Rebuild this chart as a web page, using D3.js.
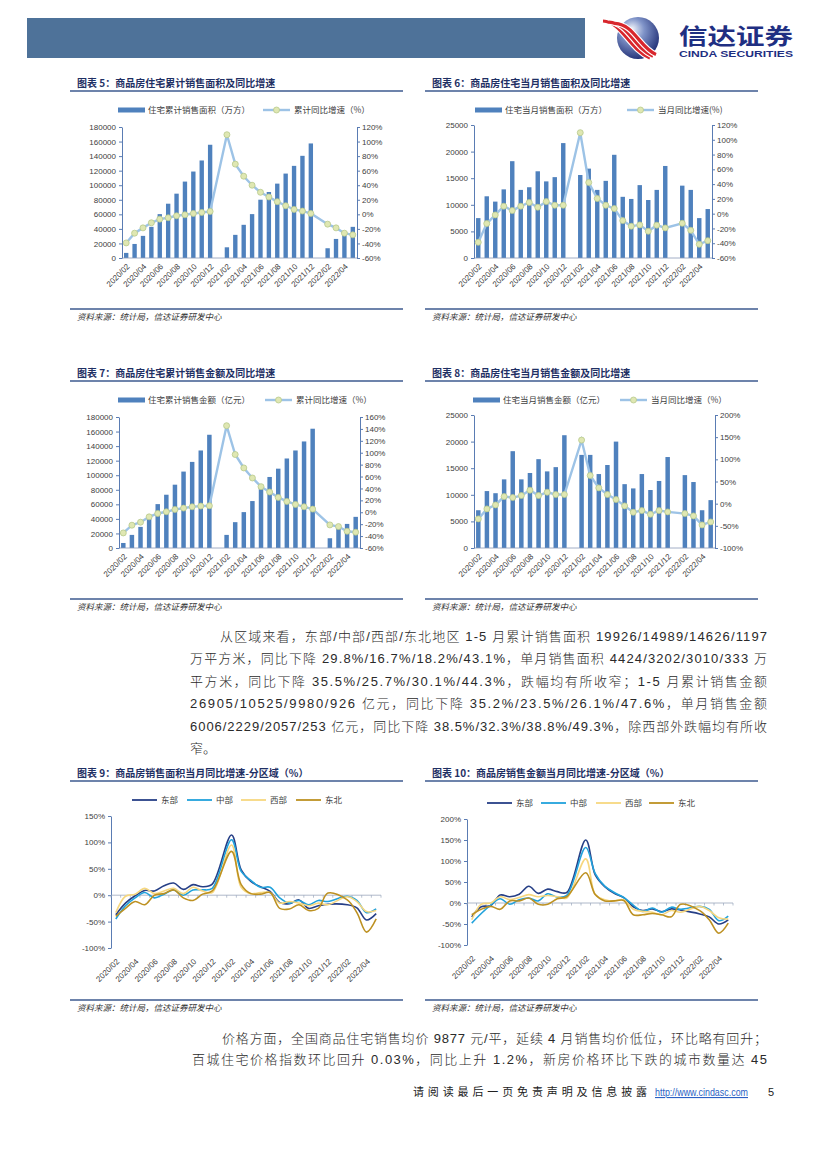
<!DOCTYPE html>
<html><head><meta charset="utf-8">
<script src="https://cdn.jsdelivr.net/npm/d3@7"></script>
<style>
body{margin:0;background:#fff;}
svg{display:block;font-family:"Liberation Sans","Noto Sans CJK SC",sans-serif;}
</style></head><body>
<svg id="page" width="827" height="1169"></svg>
<script>
// ---------- DATA ----------
const months = ["2020/02","2020/03","2020/04","2020/05","2020/06","2020/07","2020/08","2020/09","2020/10","2020/11","2020/12",
  "2021/01","2021/02","2021/03","2021/04","2021/05","2021/06","2021/07","2021/08","2021/09","2021/10","2021/11","2021/12",
  "2022/01","2022/02","2022/03","2022/04","2022/05"];
const tickMonths = ["2020/02","2020/04","2020/06","2020/08","2020/10","2020/12","2021/02","2021/04","2021/06","2021/08","2021/10","2021/12","2022/02","2022/04"];

const areaCum = [7000,19300,30400,42800,60300,74600,88400,105000,118800,134000,155600,null,14700,31800,45600,60300,80100,90700,102200,116000,126600,140400,157400,null,13400,26200,33600,42800];
const areaCumYoY = [-39.3,-25.9,-18.6,-11.6,-6.6,-4.7,-2,-0.6,1.2,2.6,4,null,109.4,69,52.4,40,30.3,23.8,17.4,11.8,6.8,4.5,1.2,null,-13.5,-18.6,-25.9,-28.2];
const areaMonth = [7500,11600,10600,12900,18200,12800,13300,16300,14400,15200,21600,null,15600,16800,12800,14500,19400,11500,11100,13700,10900,12800,17300,null,13600,12800,7500,9200];
const areaMonthYoY = [-38.8,-13.4,-1.7,10.1,4.2,10.1,15.1,8.7,16.4,11.4,11.4,null,109.6,42.2,20.5,11.4,6.9,-9.4,-17,-15.2,-23.8,-15.6,-19.3,null,-13,-22.5,-41.5,-36.5];
const salesCum = [6900,18000,29000,41900,60300,73200,87000,105000,118300,134000,155600,null,18000,35500,49300,64500,84300,97600,109000,123000,134000,146400,163900,null,13400,28100,33100,42800];
const salesCumYoY = [-34.7,-21.7,-16.7,-7.7,-2,0.8,4.7,7,9.2,10.4,10.9,null,145.4,97,74.5,57.6,43,34,25,18.2,13.2,9.2,5.3,null,-21.2,-24,-31.9,-33.5];
const salesMonth = [7100,10700,10300,12900,18200,12900,14100,16700,14400,15200,21200,null,17500,17500,13900,15600,20000,12000,11200,13900,10900,12600,17100,null,13700,12400,7100,9000];
const salesMonthYoY = [-34.4,-11.8,-2.8,16,13.8,18.3,30.4,18.3,25.8,20.6,20.6,null,143.4,63.5,35.6,20.6,9.3,-5,-19.4,-15.6,-23.9,-15.6,-18.6,null,-22.4,-27.6,-48,-41.2];

const regions = ["东部","中部","西部","东北"];
const areaEast    = [-37,-15,-1,9,8,18,23,11,20,16,21,null,114,48,26,16,7,-14,-16,-9,-25,-20,-17,null,-18,-24,-47,-35];
const areaCentral = [-45,-20,-5,5,-5,2,10,0,10,10,13,null,105,45,28,15,15,-5,-15,-10,-18,-10,-12,null,-2,-10,-33,-26];
const areaWest    = [-33,-2,2,13,3,8,13,3,15,8,5,null,95,15,3,5,5,-15,-12,-15,-20,-15,-18,null,-3,-12,-31,-29];
const areaNE      = [-40,-25,-12,-18,0,3,10,-5,-10,2,8,null,83,20,3,2,5,-25,-26,-18,-29,-25,4,null,-9,-33,-70,-45];
const salesEast    = [-33,-9,-6,19,15,21,40,23,33,27,25,null,150,67,39,23,13,-9,-18,-14,-21,-14,-17,null,-26,-33,-50,-40];
const salesCentral = [-48,-25,-5,10,-3,8,12,5,22,14,18,null,132,70,40,25,13,-5,-20,-12,-22,-10,-15,null,-8,-15,-42,-31];
const salesWest    = [-40,-3,0,15,8,13,20,15,18,15,12,null,105,20,8,5,8,-15,-20,-22,-28,-18,-22,null,-8,-18,-35,-38];
const salesNE      = [-28,-15,-8,-15,5,5,12,-3,-3,10,15,null,72,20,5,5,6,-28,-28,-25,-28,-33,-3,null,-18,-40,-72,-48];

const ticksCum = [0,20000,40000,60000,80000,100000,120000,140000,160000,180000];
const ticksMonth = [0,5000,10000,15000,20000,25000];
const ticksPct120 = [-60,-40,-20,0,20,40,60,80,100,120];
const ticksPct160 = [-60,-40,-20,0,20,40,60,80,100,120,140,160];
const ticksPct200 = [-100,-50,0,50,100,150,200];
const ticksPct150 = [-100,-50,0,50,100,150];

// ---------- STYLE ----------
const BAR = "#4f81bd", LINE = "#9dc3e6", MK = "#dfe7b2", MKS = "#b8c98c";
const AX = "#5a7cb3", TXT = "#404040", NAVY = "#1f3064";
const regionColors = ["#263f86","#21a2dc","#f6d77f","#bd9122"];

const svg = d3.select("#page");

// ---------- HEADER ----------
svg.append("rect").attr("x",27).attr("y",18).attr("width",558).attr("height",40).attr("fill","#4e7299");
const defs = svg.append("defs");
const rg = defs.append("radialGradient").attr("id","sph").attr("cx","40%").attr("cy","35%").attr("r","70%").attr("fx","35%").attr("fy","28%");
rg.append("stop").attr("offset","0%").attr("stop-color","#f2f5fb");
rg.append("stop").attr("offset","40%").attr("stop-color","#7f93c8");
rg.append("stop").attr("offset","100%").attr("stop-color","#1d2b72");
svg.append("circle").attr("cx",638).attr("cy",38).attr("r",21).attr("fill","url(#sph)");
[0,6,12].forEach((o,i)=>{
  svg.append("path").attr("d",`M${603+o},${21+o*0.2} C${622+o},${22+o*0.2} ${628+o},${48} ${650+o*0.5},${58-o*0.3}`)
    .attr("fill","none").attr("stroke","#fff").attr("stroke-width",5.5);
  svg.append("path").attr("d",`M${603+o},${21+o*0.2} C${622+o},${22+o*0.2} ${628+o},${48} ${650+o*0.5},${58-o*0.3}`)
    .attr("fill","none").attr("stroke","#d8262c").attr("stroke-width",3.2);
});
svg.append("text").attr("x",679).attr("y",44).attr("font-size",22).attr("font-weight","bold").attr("fill","#1f2f82")
  .attr("textLength",114).attr("lengthAdjust","spacingAndGlyphs").attr("font-family","Noto Sans CJK SC").text("信达证券");
svg.append("text").attr("x",679).attr("y",57).attr("font-size",8.5).attr("font-weight","bold").attr("fill","#1f2f82")
  .attr("textLength",114).attr("lengthAdjust","spacingAndGlyphs").text("CINDA SECURITIES");

// ---------- PANEL FRAME ----------
function panelFrame(x0,x1,titleY,sourceY,title){
  svg.append("text").attr("x",x0+7).attr("y",titleY).attr("font-size",10).attr("font-weight","bold")
    .attr("fill",NAVY).attr("font-family","Noto Sans CJK SC").text(title);
  svg.append("line").attr("x1",x0).attr("x2",x1).attr("y1",titleY+4).attr("y2",titleY+4).attr("stroke","#3d5a8f").attr("stroke-width",1.3);
  svg.append("line").attr("x1",x0).attr("x2",x1).attr("y1",sourceY).attr("y2",sourceY).attr("stroke","#3d5a8f").attr("stroke-width",1.3);
  svg.append("text").attr("x",x0+7).attr("y",sourceY+11).attr("font-size",8.5).attr("font-style","italic")
    .attr("fill","#333").attr("font-family","Noto Sans CJK SC").text("资料来源：统计局，信达证券研发中心");
}

function styleAxis(sel){
  sel.select(".domain").attr("stroke",AX);
  sel.selectAll(".tick line").attr("stroke",AX);
  sel.selectAll(".tick text").attr("fill",TXT).attr("font-size",8).attr("font-family","Liberation Sans");
}

function xLabels(g,x,y0){
  g.selectAll("text.xl").data(tickMonths).join("text").attr("class","xl")
    .attr("transform",d=>`translate(${x(d)+x.bandwidth()/2+2},${y0}) rotate(-45)`)
    .attr("text-anchor","end").attr("dy","0.35em").attr("font-size",8).attr("fill",TXT).text(d=>d);
}

// ---------- COMBO CHART ----------
function comboChart(c){
  const g = svg.append("g");
  const x = d3.scaleBand().domain(months).range([c.l,c.r]);
  const yL = d3.scaleLinear().domain([0,c.lMax]).range([c.b,c.t]);
  const yR = d3.scaleLinear().domain([c.rMin,c.rMax]).range([c.b,c.t]);
  const bw = x.bandwidth()*0.52;
  const bars = months.map((m,i)=>({m,v:c.bars[i]})).filter(d=>d.v!=null);
  g.selectAll("rect.bar").data(bars).join("rect").attr("class","bar")
    .attr("x",d=>x(d.m)+(x.bandwidth()-bw)/2).attr("width",bw)
    .attr("y",d=>yL(d.v)).attr("height",d=>yL(0)-yL(d.v)).attr("fill",BAR);
  g.append("line").attr("x1",c.l).attr("x2",c.r).attr("y1",c.b).attr("y2",c.b).attr("stroke","#8a9bb8").attr("stroke-width",0.8);
  g.append("g").attr("transform",`translate(${c.l},0)`)
    .call(d3.axisLeft(yL).tickValues(c.lTicks).tickSize(3).tickSizeOuter(0).tickPadding(3).tickFormat(d3.format("d")))
    .call(styleAxis);
  g.append("g").attr("transform",`translate(${c.r},0)`)
    .call(d3.axisRight(yR).tickValues(c.rTicks).tickSize(3).tickSizeOuter(0).tickPadding(2).tickFormat(d=>d+"%"))
    .call(styleAxis);
  xLabels(g,x,c.b+7);
  const pts = months.map((m,i)=>({m,v:c.line[i]})).filter(d=>d.v!=null);
  const cx = d=>x(d.m)+x.bandwidth()/2;
  g.append("path").datum(pts).attr("fill","none").attr("stroke",LINE).attr("stroke-width",2.4)
    .attr("d",d3.line().x(cx).y(d=>yR(d.v)));
  g.selectAll("circle.mk").data(pts).join("circle").attr("class","mk")
    .attr("cx",cx).attr("cy",d=>yR(d.v)).attr("r",3).attr("fill",MK).attr("stroke",MKS).attr("stroke-width",0.8);
  // legend
  const ly = c.legY;
  g.append("rect").attr("x",c.lg1).attr("y",ly-2.5).attr("width",27).attr("height",5).attr("fill",BAR);
  g.append("text").attr("x",c.lg1+30).attr("y",ly).attr("dy","0.35em").attr("font-size",8.5).attr("fill",TXT)
    .attr("font-family","Noto Sans CJK SC").text(c.leg1);
  g.append("line").attr("x1",c.lg2).attr("x2",c.lg2+27).attr("y1",ly).attr("y2",ly).attr("stroke",LINE).attr("stroke-width",2.4);
  g.append("circle").attr("cx",c.lg2+13.5).attr("cy",ly).attr("r",3).attr("fill",MK).attr("stroke",MKS).attr("stroke-width",0.8);
  g.append("text").attr("x",c.lg2+31).attr("y",ly).attr("dy","0.35em").attr("font-size",8.5).attr("fill",TXT)
    .attr("font-family","Noto Sans CJK SC").text(c.leg2);
}

// ---------- REGION CHART ----------
function regionChart(c){
  const g = svg.append("g");
  const x = d3.scaleBand().domain(months).range([c.l,c.r]);
  const y = d3.scaleLinear().domain([c.min,c.max]).range([c.b,c.t]);
  g.append("g").attr("transform",`translate(${c.l},0)`)
    .call(d3.axisLeft(y).tickValues(c.ticks).tickSize(3).tickSizeOuter(0).tickPadding(3).tickFormat(d=>d+"%"))
    .call(styleAxis);
  g.append("line").attr("x1",c.l).attr("x2",c.r).attr("y1",y(0)).attr("y2",y(0)).attr("stroke","#9aa6bb").attr("stroke-width",0.8);
  g.selectAll("line.zt").data(months.concat(["end"])).join("line").attr("class","zt")
    .attr("x1",(d,i)=>c.l+i*x.step()).attr("x2",(d,i)=>c.l+i*x.step())
    .attr("y1",y(0)).attr("y2",y(0)+2.5).attr("stroke","#9aa6bb").attr("stroke-width",0.7);
  xLabels(g,x,c.b+12);
  const line = d3.line().x(d=>x(d.m)+x.bandwidth()/2).y(d=>y(d.v)).curve(d3.curveCatmullRom.alpha(0.5));
  c.series.forEach((s,k)=>{
    const pts = months.map((m,i)=>({m,v:s[i]})).filter(d=>d.v!=null);
    g.append("path").datum(pts).attr("fill","none").attr("stroke",regionColors[k]).attr("stroke-width",1.6).attr("d",line);
  });
  regions.forEach((r,k)=>{
    g.append("line").attr("x1",c.leg[k]).attr("x2",c.leg[k]+25).attr("y1",c.legY).attr("y2",c.legY)
      .attr("stroke",regionColors[k]).attr("stroke-width",1.8);
    g.append("text").attr("x",c.leg[k]+29).attr("y",c.legY).attr("dy","0.35em").attr("font-size",8.5).attr("fill",TXT)
      .attr("font-family","Noto Sans CJK SC").text(r);
  });
}

// ---------- PANELS ----------
panelFrame(70,403,87,309,"图表 5：商品房住宅累计销售面积及同比增速");
panelFrame(425,758,87,309,"图表 6：商品房住宅当月销售面积及同比增速");
panelFrame(70,403,377,599,"图表 7：商品房住宅累计销售金额及同比增速");
panelFrame(425,758,377,599,"图表 8：商品房住宅当月销售金额及同比增速");
panelFrame(70,403,777,1000,"图表 9：商品房销售面积当月同比增速-分区域（%）");
panelFrame(425,758,777,1000,"图表 10：商品房销售金额当月同比增速-分区域（%）");

comboChart({l:122,r:357,t:127,b:258,lMax:180000,lTicks:ticksCum,rMin:-60,rMax:120,rTicks:ticksPct120,
  bars:areaCum,line:areaCumYoY,legY:110,lg1:118,lg2:263,leg1:"住宅累计销售面积（万方）",leg2:"累计同比增速（%）"});
comboChart({l:474,r:712,t:125,b:258,lMax:25000,lTicks:ticksMonth,rMin:-60,rMax:120,rTicks:ticksPct120,
  bars:areaMonth,line:areaMonthYoY,legY:110,lg1:475,lg2:627,leg1:"住宅当月销售面积（万方）",leg2:"当月同比增速(%)"});
comboChart({l:119,r:360,t:417,b:548,lMax:180000,lTicks:ticksCum,rMin:-60,rMax:160,rTicks:ticksPct160,
  bars:salesCum,line:salesCumYoY,legY:400,lg1:118,lg2:265,leg1:"住宅累计销售金额（亿元）",leg2:"累计同比增速（%）"});
comboChart({l:474,r:715,t:415,b:548,lMax:25000,lTicks:ticksMonth,rMin:-100,rMax:200,rTicks:ticksPct200,
  bars:salesMonth,line:salesMonthYoY,legY:400,lg1:473,lg2:620,leg1:"住宅当月销售金额（亿元）",leg2:"当月同比增速（%）"});

regionChart({l:111,r:381,t:816,b:948,min:-100,max:150,ticks:ticksPct150,
  series:[areaEast,areaCentral,areaWest,areaNE],legY:800,leg:[132,187,241,296]});
regionChart({l:467,r:733,t:819,b:945,min:-100,max:200,ticks:ticksPct200,
  series:[salesEast,salesCentral,salesWest,salesNE],legY:803,leg:[487,541,596,649]});

// ---------- BODY TEXT ----------
function bodyLine(x,y,str,w){
  const t = svg.append("text").attr("x",x).attr("y",y).attr("font-size",13).attr("font-weight",300)
    .attr("fill","#2a2a2a").text(str);
  if(w) t.attr("textLength",w).attr("lengthAdjust","spacing");
}
const para1 = [
  "从区域来看，东部/中部/西部/东北地区 1-5 月累计销售面积 19926/14989/14626/1197",
  "万平方米，同比下降 29.8%/16.7%/18.2%/43.1%，单月销售面积 4424/3202/3010/333 万",
  "平方米，同比下降 35.5%/25.7%/30.1%/44.3%，跌幅均有所收窄；1-5 月累计销售金额",
  "26905/10525/9980/926 亿元，同比下降 35.2%/23.5%/26.1%/47.6%，单月销售金额",
  "6006/2229/2057/253 亿元，同比下降 38.5%/32.3%/38.8%/49.3%，除西部外跌幅均有所收",
  "窄。"];
para1.forEach((s,i)=>{
  const x = i===0?220:190;
  bodyLine(x,641+i*22.4,s,i<5?767-x:null);
});
bodyLine(222,1043,"价格方面，全国商品住宅销售均价 9877 元/平，延续 4 月销售均价低位，环比略有回升；",767-222);
bodyLine(192,1064,"百城住宅价格指数环比回升 0.03%，同比上升 1.2%，新房价格环比下跌的城市数量达 45",767-192);

// ---------- FOOTER ----------
svg.append("text").attr("x",413).attr("y",1096).attr("font-size",11).attr("fill","#222")
  .attr("textLength",234).attr("lengthAdjust","spacing").text("请阅读最后一页免责声明及信息披露");
svg.append("text").attr("x",655).attr("y",1096).attr("font-size",11).attr("fill","#2b5fc4")
  .attr("text-decoration","underline").attr("textLength",93).attr("lengthAdjust","spacingAndGlyphs").text("http://www.cindasc.com");
svg.append("text").attr("x",768).attr("y",1096).attr("font-size",11).attr("fill","#222").text("5");
</script>
</body></html>
